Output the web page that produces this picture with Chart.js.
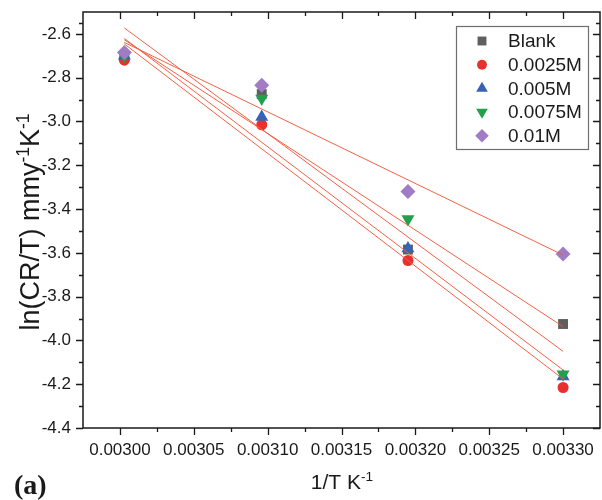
<!DOCTYPE html>
<html>
<head>
<meta charset="utf-8">
<script src="https://cdn.jsdelivr.net/npm/chart.js@4.4.1/dist/chart.umd.min.js"></script>
<style>
    html, body { margin: 0; padding: 0; background: #fff; overflow: hidden; }
    #arrheniusChart { display: block; }
</style>
</head>
<body>
<canvas id="arrheniusChart" width="602" height="500"></canvas>
<script>
// values
const invT = [0.003003, 0.003096, 0.003195, 0.0033];
const seriesLabels = ['Blank', '0.0025M', '0.005M', '0.0075M', '0.01M'];
const blank = [-2.700, -2.875, -3.585, -3.925];
const conc0025 = [-2.720, -3.015, -3.635, -4.215];
const conc005 = [-2.700, -2.980, -3.580, -4.165];
const conc0075 = [-2.700, -2.895, -3.445, -4.155];
const conc01 = [-2.685, -2.835, -3.320, -3.605];

// end points of the fitted straight lines
const fitX = [0.003003, 0.0033];
const fitBlank = [-2.627, -3.937];
const fit0025 = [-2.646, -4.176];
const fit005 = [-2.621, -4.135];
const fit0075 = [-2.573, -4.050];
const fit01 = [-2.639, -3.610];

const xTicks = [0.00300, 0.00305, 0.00310, 0.00315, 0.00320, 0.00325, 0.00330];
const yTicks = [-4.4, -4.2, -4.0, -3.8, -3.6, -3.4, -3.2, -3.0, -2.8, -2.6];

const seriesValues = [blank, conc0025, conc005, conc0075, conc01];
const fitValues = [fitBlank, fit0025, fit005, fit0075, fit01];
const colors = ['#5f5f5f', '#e8302f', '#3663b4', '#22a04c', '#a07cc4'];
const styles = ['rect', 'circle', 'triangle', 'triangle', 'rectRot'];
const rotations = [0, 0, 0, 180, 0];
const radii = [7, 5.5, 7.5, 7.5, 7.5];

const FONT = '"Liberation Sans", Arial, sans-serif';

function toPoints(xs, ys) {
    return xs.map((x, i) => ({ x: x, y: ys[i] }));
}

const datasets = [];
seriesValues.forEach((vals, i) => {
    datasets.push({
        label: seriesLabels[i],
        data: toPoints(invT, vals),
        pointStyle: styles[i],
        rotation: rotations[i],
        radius: radii[i],
        pointRadius: radii[i],
        pointHoverRadius: radii[i],
        backgroundColor: colors[i],
        borderColor: colors[i],
        borderWidth: 0,
        showLine: false,
        order: 10 - i
    });
});
fitValues.forEach((vals, i) => {
    datasets.push({
        label: 'fit ' + seriesLabels[i],
        isFit: true,
        type: 'line',
        data: toPoints(fitX, vals),
        borderColor: 'rgba(242, 88, 60, 0.95)',
        borderWidth: 1,
        pointRadius: 0,
        fill: false,
        order: 0
    });
});

function drawSupText(ctx, parts, x, y, size) {
    // parts: [text, isSuperscript]
    let width = 0;
    parts.forEach(p => {
        ctx.font = (p[1] ? size * 0.65 : size) + 'px ' + FONT;
        width += ctx.measureText(p[0]).width;
    });
    let cx = x - width / 2;
    parts.forEach(p => {
        ctx.font = (p[1] ? size * 0.65 : size) + 'px ' + FONT;
        ctx.fillText(p[0], cx, p[1] ? y - size * 0.38 : y);
        cx += ctx.measureText(p[0]).width;
    });
}

const framePlugin = {
    id: 'frame',
    afterDraw(chart) {
        const ctx = chart.ctx;
        const area = chart.chartArea;
        const xs = chart.scales.x;
        const ys = chart.scales.y;
        ctx.save();
        ctx.strokeStyle = '#1a1a1a';
        ctx.lineWidth = 1.5;
        ctx.strokeRect(area.left, area.top, area.right - area.left, area.bottom - area.top);

        ctx.lineWidth = 1.3;
        ctx.beginPath();
        // x ticks: outward at bottom, inward at top
        xTicks.forEach((v, i) => {
            const px = Math.round(xs.getPixelForValue(v)) + 0.5;
            ctx.moveTo(px, area.bottom); ctx.lineTo(px, area.bottom + 7);
            ctx.moveTo(px, area.top); ctx.lineTo(px, area.top + 7);
            if (i < xTicks.length - 1) {
                const mx = Math.round(xs.getPixelForValue((v + xTicks[i + 1]) / 2)) + 0.5;
                ctx.moveTo(mx, area.bottom); ctx.lineTo(mx, area.bottom + 4);
                ctx.moveTo(mx, area.top); ctx.lineTo(mx, area.top + 4);
            }
        });
        // y ticks: outward at left, inward at right
        yTicks.forEach((v, i) => {
            const py = Math.round(ys.getPixelForValue(v)) + 0.5;
            ctx.moveTo(area.left, py); ctx.lineTo(area.left - 7, py);
            ctx.moveTo(area.right, py); ctx.lineTo(area.right - 7, py);
            const next = i < yTicks.length - 1 ? yTicks[i + 1] : -2.5;
            const my = Math.round(ys.getPixelForValue((v + next) / 2)) + 0.5;
            ctx.moveTo(area.left, my); ctx.lineTo(area.left - 4, my);
            ctx.moveTo(area.right, my); ctx.lineTo(area.right - 4, my);
        });
        ctx.stroke();

        // legend box
        const lx = 456, ly = 26, lw = 132, lh = 123;
        ctx.fillStyle = '#fff';
        ctx.fillRect(lx, ly, lw, lh);
        ctx.strokeStyle = '#6e6e6e';
        ctx.lineWidth = 1.2;
        ctx.strokeRect(lx + 0.5, ly + 0.5, lw, lh);
        chart.data.datasets.filter(d => !d.isFit).forEach((d, i) => {
            const cy = 41 + i * 23.7;
            ctx.fillStyle = d.backgroundColor;
            ctx.strokeStyle = d.borderColor;
            Chart.helpers.drawPoint(ctx, {
                pointStyle: d.pointStyle,
                rotation: d.rotation,
                radius: d.pointRadius * 0.9,
                borderWidth: 0
            }, 482, cy);
            ctx.fillStyle = '#1a1a1a';
            ctx.font = '19px ' + FONT;
            ctx.textAlign = 'left';
            ctx.textBaseline = 'middle';
            ctx.fillText(d.label, 508, cy + 1);
        });

        // axis titles
        ctx.fillStyle = '#1a1a1a';
        ctx.textBaseline = 'alphabetic';
        ctx.textAlign = 'left';
        drawSupText(ctx, [['1/T K', false], ['-1', true]], 342, 489, 21);

        ctx.save();
        ctx.translate(39, 222);
        ctx.rotate(-Math.PI / 2);
        drawSupText(ctx, [['ln(CR/T) mmy', false], ['-1', true], ['K', false], ['-1', true]], 0, 0, 27);
        ctx.restore();

        ctx.font = 'bold 28px "Liberation Serif", "Times New Roman", serif';
        ctx.fillText('(a)', 14, 494);
        ctx.restore();
    }
};

// keep the plot frame where the reference has it
function noScalePadding(scale) {
    scale.paddingLeft = 0;
    scale.paddingRight = 0;
    scale.paddingTop = 0;
    scale.paddingBottom = 0;
}

const ctx = document.getElementById('arrheniusChart').getContext('2d');
let chart = new Chart(ctx, {
    type: 'scatter',
    data: { datasets: datasets },
    options: {
        responsive: false,
        animation: false,
        layout: { autoPadding: false, padding: { top: 12, right: 2, left: 0, bottom: 0 } },
        plugins: {
            legend: { display: false },
            tooltip: { enabled: false }
        },
        scales: {
            x: {
                type: 'linear',
                min: 0.002975,
                max: 0.003325,
                grid: { display: false, drawTicks: false, tickLength: 0 },
                border: { display: false },
                afterBuildTicks: scale => { scale.ticks = xTicks.map(v => ({ value: v })); },
                afterFit: scale => { scale.height = 72; noScalePadding(scale); },
                ticks: {
                    autoSkip: false,
                    maxRotation: 0,
                    padding: 12,
                    color: '#1a1a1a',
                    font: { family: FONT, size: 17 },
                    callback: v => v.toFixed(5)
                }
            },
            y: {
                type: 'linear',
                min: -4.4,
                max: -2.5,
                grid: { display: false, drawTicks: false, tickLength: 0 },
                border: { display: false },
                afterBuildTicks: scale => { scale.ticks = yTicks.map(v => ({ value: v })); },
                afterFit: scale => { scale.width = 83; noScalePadding(scale); },
                ticks: {
                    autoSkip: false,
                    padding: 12,
                    color: '#1a1a1a',
                    font: { family: FONT, size: 17 },
                    callback: v => v.toFixed(1)
                }
            }
        }
    },
    plugins: [framePlugin]
});
</script>
</body>
</html>
